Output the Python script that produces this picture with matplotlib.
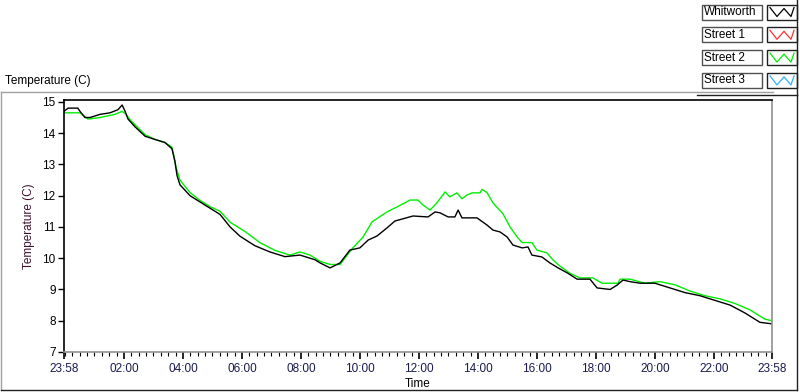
import matplotlib
matplotlib.use("Agg")
import matplotlib.pyplot as plt
from matplotlib.lines import Line2D
from matplotlib.patches import Rectangle
import numpy as np

# hours since 23:58, temperature in C
whitworth_t = [0, 0.14, 0.47, 0.54, 0.71, 0.88, 1.22, 1.56, 1.83, 1.97, 2.07, 2.17, 2.41,
               2.75, 3.08, 3.42, 3.66, 3.76, 3.83, 3.93, 4.27, 4.61, 4.95, 5.29, 5.63, 5.97,
               6.47, 6.98, 7.49, 8.0, 8.51, 8.68, 9.02, 9.36, 9.69, 10.03, 10.31, 10.61,
               10.95, 11.22, 11.49, 11.83, 12.34, 12.58, 12.75, 13.02, 13.25, 13.36, 13.49,
               14.0, 14.34, 14.54, 14.78, 15.02, 15.22, 15.53, 15.73, 15.86, 16.2, 16.47,
               16.75, 17.08, 17.39, 17.83, 18.07, 18.51, 18.75, 18.95, 19.19, 19.53, 20.03,
               20.54, 21.05, 21.56, 22.07, 22.58, 23.08, 23.59, 24.0]
whitworth_v = [14.7, 14.8, 14.8, 14.7, 14.5, 14.5, 14.6, 14.65, 14.75, 14.9, 14.7, 14.45, 14.2,
               13.9, 13.8, 13.7, 13.5, 13.1, 12.65, 12.35, 12.0, 11.8, 11.6, 11.4, 11.0, 10.7,
               10.4, 10.2, 10.05, 10.1, 9.95, 9.85, 9.69, 9.85, 10.26, 10.33, 10.58, 10.71,
               10.97, 11.19, 11.26, 11.35, 11.32, 11.48, 11.45, 11.32, 11.32, 11.54, 11.29,
               11.29, 11.06, 10.9, 10.84, 10.68, 10.42, 10.33, 10.36, 10.1, 10.04, 9.85,
               9.69, 9.52, 9.33, 9.33, 9.05, 9.0, 9.14, 9.3, 9.25, 9.2, 9.2,
               9.05, 8.9, 8.8, 8.65, 8.5, 8.25, 7.95, 7.9]

street2_t = [0, 0.54, 0.81, 1.22, 1.73, 1.97, 2.1, 2.27, 2.75, 3.08, 3.42, 3.66, 3.8, 3.93,
             4.27, 4.61, 4.95, 5.29, 5.63, 6.14, 6.64, 7.15, 7.66, 8.0, 8.34, 8.68, 9.02,
             9.36, 9.76, 10.14, 10.44, 10.95, 11.29, 11.73, 12.0, 12.17, 12.41, 12.64, 12.92,
             13.08, 13.32, 13.49, 13.66, 13.83, 14.1, 14.17, 14.34, 14.54, 14.88, 15.12,
             15.36, 15.53, 15.86, 16.03, 16.37, 16.58, 16.81, 17.15, 17.49, 17.93, 18.24,
             18.78, 18.85, 19.19, 19.69, 20.2, 20.71, 21.22, 21.73, 22.24, 22.75, 23.25,
             23.76, 24.0]
street2_v = [14.65, 14.65, 14.45, 14.5, 14.6, 14.7, 14.6, 14.4, 13.95, 13.8, 13.7, 13.55, 12.9, 12.5,
             12.1, 11.85, 11.65, 11.5, 11.15, 10.85, 10.5, 10.25, 10.1, 10.2, 10.1, 9.9, 9.8,
             9.8, 10.3, 10.68, 11.16, 11.48, 11.64, 11.86, 11.86, 11.7, 11.54, 11.77, 12.12,
             11.96, 12.09, 11.9, 12.02, 12.09, 12.09, 12.2, 12.1, 11.77, 11.42, 11.0,
             10.68, 10.5, 10.5, 10.26, 10.17, 9.94, 9.75, 9.52, 9.37, 9.37, 9.2,
             9.2, 9.33, 9.33, 9.2, 9.25, 9.15, 8.95, 8.8, 8.7, 8.55, 8.35,
             8.05, 8.0]

series_names = ["Whitworth", "Street 1", "Street 2", "Street 3"]
series_colors = ["#000000", "#ff3030", "#00ee00", "#30b0ff"]

hour_ticks = [0] + [h + 2 / 60 for h in range(2, 24, 2)] + [24]
hour_labels = ["23:58"] + ["%02d:00" % h for h in range(2, 24, 2)] + ["23:58"]

W, H = 800, 392
FS = 8.5
plt.rcParams["font.family"] = ["Liberation Sans", "DejaVu Sans"]
fig = plt.figure(figsize=(W / 100, H / 100), dpi=100)
fig.patch.set_facecolor("white")


def fx(px):
    return px / W


def fy(py):
    return 1 - py / H


def fig_line(x0, y0, x1, y1, color, lw=1.0):
    fig.add_artist(Line2D([fx(x0), fx(x1)], [fy(y0), fy(y1)], color=color, lw=lw,
                          transform=fig.transFigure))


# chart frame (sunken look)
fig_line(1, 92, 773, 92, "#a0a0a0")
fig_line(1, 92, 1, 390, "#a0a0a0")
fig_line(1, 390, 797, 390, "#202020")
fig_line(797, 95, 797, 390, "#202020")
# legend panel
fig_line(697, 95, 797, 95, "#202020")
fig_line(797, 0, 797, 95, "#202020")

fig.text(fx(5), fy(81), "Temperature (C)", fontsize=FS, va="center", ha="left")

ax = fig.add_axes([fx(64), fy(352), fx(772) - fx(64), fy(100) - fy(352)])
ax.plot(whitworth_t, whitworth_v, color=series_colors[0], lw=1.0)
ax.plot(street2_t, street2_v, color=series_colors[2], lw=1.0, zorder=1)
ax.set_xlim(0, 24)
ax.set_ylim(7, 15.06)
ax.set_yticks(range(7, 16))
ax.set_xticks(hour_ticks)
ax.set_xticklabels(hour_labels, color="#1a1a50")
ax.set_xticks(np.arange(0, 24, 0.25) + 2 / 60, minor=True)
ax.tick_params(axis="x", which="major", direction="out", length=5, width=1.2, labelsize=FS, pad=3)
ax.tick_params(axis="x", which="minor", direction="out", length=3, width=0.8)
ax.tick_params(axis="y", direction="out", length=4, width=1, labelsize=FS, pad=2)
ax.spines["left"].set_color("black")
ax.spines["top"].set_color("black")
ax.spines["right"].set_color("#909090")
ax.spines["bottom"].set_color("#909090")
for s in ax.spines.values():
    s.set_linewidth(1.2)
ax.set_ylabel("Temperature (C)", fontsize=FS, color="#401030", labelpad=5)
ax.set_xlabel("Time", fontsize=FS, labelpad=2)

# LabVIEW style legend
for i, (name, col) in enumerate(zip(series_names, series_colors)):
    top = 4.5 + i * 22.8
    fig.add_artist(Rectangle((fx(702), fy(top + 15)), fx(60), fy(top) - fy(top + 15),
                             transform=fig.transFigure, fill=False, ec="#505050", lw=1))
    fig.text(fx(704), fy(top + 7.5), name, fontsize=FS, va="center", ha="left")
    fig.add_artist(Rectangle((fx(767), fy(top + 15)), fx(30), fy(top) - fy(top + 15),
                             transform=fig.transFigure, fill=False, ec="#202020", lw=1))
    zx = [770, 777, 784, 791, 794]
    zy = [top + 3, top + 12, top + 4, top + 12, top + 3]
    fig.add_artist(Line2D([fx(v) for v in zx], [fy(v) for v in zy], color=col, lw=0.9,
                          transform=fig.transFigure))

fig.savefig("out.png", dpi=100, facecolor="white")
